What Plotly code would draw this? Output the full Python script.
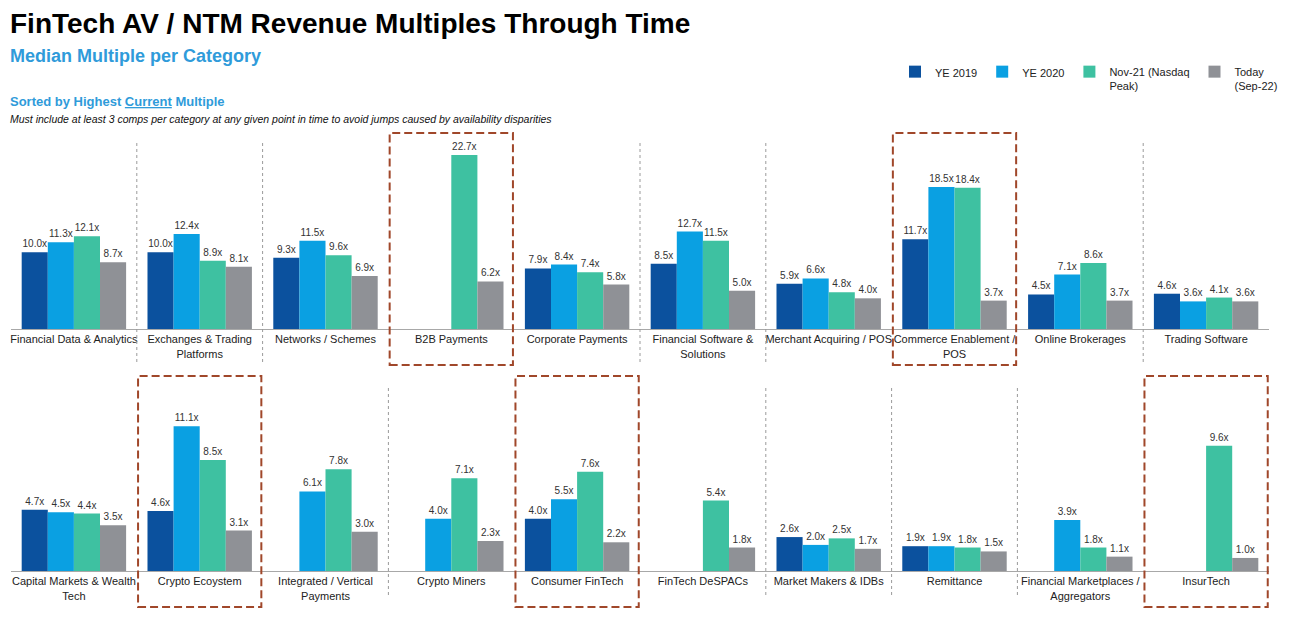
import plotly.graph_objects as go

series_names = ["YE 2019", "YE 2020", "Nov-21 (Nasdaq<br>Peak)", "Today<br>(Sep-22)"]
series_colors = ["#0B519E", "#0AA0E2", "#3EC1A1", "#8F9196"]

top_categories = [
    "Financial Data & Analytics", "Exchanges & Trading<br>Platforms", "Networks / Schemes",
    "B2B Payments", "Corporate Payments", "Financial Software &<br>Solutions",
    "Merchant Acquiring / POS", "Commerce Enablement /<br>POS", "Online Brokerages",
    "Trading Software",
]
top_ye2019 = [10.0, 10.0, 9.3, None, 7.9, 8.5, 5.9, 11.7, 4.5, 4.6]
top_ye2020 = [11.3, 12.4, 11.5, None, 8.4, 12.7, 6.6, 18.5, 7.1, 3.6]
top_nov21 = [12.1, 8.9, 9.6, 22.7, 7.4, 11.5, 4.8, 18.4, 8.6, 4.1]
top_today = [8.7, 8.1, 6.9, 6.2, 5.8, 5.0, 4.0, 3.7, 3.7, 3.6]

bottom_categories = [
    "Capital Markets & Wealth<br>Tech", "Crypto Ecoystem", "Integrated / Vertical<br>Payments",
    "Crypto Miners", "Consumer FinTech", "FinTech DeSPACs", "Market Makers & IDBs",
    "Remittance", "Financial Marketplaces /<br>Aggregators", "InsurTech",
]
bottom_ye2019 = [4.7, 4.6, None, None, 4.0, None, 2.6, 1.9, None, None]
bottom_ye2020 = [4.5, 11.1, 6.1, 4.0, 5.5, None, 2.0, 1.9, 3.9, None]
bottom_nov21 = [4.4, 8.5, 7.8, 7.1, 7.6, 5.4, 2.5, 1.8, 1.8, 9.6]
bottom_today = [3.5, 3.1, 3.0, 2.3, 2.2, 1.8, 1.7, 1.5, 1.1, 1.0]

top_boxed = [3, 7]
bottom_boxed = [1, 4, 9]

# page body has an 8px margin; figure is sized so it fits the 1292x631 window
OFF = 8
W, H = 1292 - OFF, 631 - OFF
def py(p):
    return 1 - (p - OFF) / H
def px(p):
    return (p - OFF) / W

FONT = "Liberation Sans, Arial, sans-serif"

fig = go.Figure()
top_series = [top_ye2019, top_ye2020, top_nov21, top_today]
bottom_series = [bottom_ye2019, bottom_ye2020, bottom_nov21, bottom_today]
for i in range(4):
    fig.add_trace(go.Bar(
        x=top_categories, y=top_series[i], name=series_names[i],
        marker=dict(color=series_colors[i], line=dict(width=0)),
        text=[None if v is None else f"{v:.1f}x" for v in top_series[i]],
        textposition="outside", cliponaxis=False, constraintext="none",
        textfont=dict(size=10, color="#333333", family=FONT),
        xaxis="x", yaxis="y", legendgroup=str(i), showlegend=True,
        hoverinfo="skip",
    ))
for i in range(4):
    fig.add_trace(go.Bar(
        x=bottom_categories, y=bottom_series[i], name=series_names[i],
        marker=dict(color=series_colors[i], line=dict(width=0)),
        text=[None if v is None else f"{v:.1f}x" for v in bottom_series[i]],
        textposition="outside", cliponaxis=False, constraintext="none",
        textfont=dict(size=10, color="#333333", family=FONT),
        xaxis="x2", yaxis="y2", legendgroup=str(i), showlegend=False,
        hoverinfo="skip",
    ))

xdom = [px(11), px(1269)]
axis_common = dict(
    domain=xdom, showline=True, linecolor="#A8A8A8", linewidth=1,
    ticks="", showgrid=False, zeroline=False, tickangle=0,
    tickfont=dict(size=11, color="#222222", family=FONT),
    type="category", range=[-0.5, 9.5], fixedrange=True,
)
fig.update_layout(
    width=W, height=H,
    margin=dict(l=0, r=0, t=0, b=0),
    paper_bgcolor="white", plot_bgcolor="white",
    barmode="group", bargap=0.17, bargroupgap=0,
    font=dict(family=FONT, color="#222222"),
    xaxis=dict(**axis_common, anchor="y"),
    xaxis2=dict(**axis_common, anchor="y2"),
    yaxis=dict(domain=[py(329), py(140)], range=[0, 189 / 7.67], visible=False, fixedrange=True),
    yaxis2=dict(domain=[py(571), py(385)], range=[0, 186 / 13.05], visible=False, fixedrange=True),
    legend=dict(
        orientation="h", x=px(895), y=py(58), xanchor="left", yanchor="top",
        font=dict(size=11, color="#222222", family=FONT), traceorder="normal",
        itemwidth=30, bgcolor="rgba(0,0,0,0)", valign="top",
    ),
    showlegend=True,
)

shapes = []
for i in range(9):
    left, right = i, i + 1
    if left not in top_boxed and right not in top_boxed:
        shapes.append(dict(type="line", xref="x", yref="paper", x0=i + 0.5, x1=i + 0.5,
                           y0=py(362), y1=py(143), line=dict(color="#9A9A9A", width=1, dash="3px,3px")))
    if left not in bottom_boxed and right not in bottom_boxed:
        shapes.append(dict(type="line", xref="x2", yref="paper", x0=i + 0.5, x1=i + 0.5,
                           y0=py(595), y1=py(385), line=dict(color="#9A9A9A", width=1, dash="3px,3px")))
for b in top_boxed:
    shapes.append(dict(type="rect", xref="x", yref="paper", x0=b - 0.49, x1=b + 0.49,
                       y0=py(365), y1=py(133), line=dict(color="#A0472A", width=2, dash="8px,4px"),
                       fillcolor="rgba(0,0,0,0)"))
for b in bottom_boxed:
    shapes.append(dict(type="rect", xref="x2", yref="paper", x0=b - 0.49, x1=b + 0.49,
                       y0=py(607), y1=py(376), line=dict(color="#A0472A", width=2, dash="8px,4px"),
                       fillcolor="rgba(0,0,0,0)"))
fig.update_layout(shapes=shapes)

ann = [
    dict(text="<b>FinTech AV / NTM Revenue Multiples Through Time</b>", x=px(8), y=py(23),
         font=dict(size=28, color="#000000", family=FONT)),
    dict(text="<b>Median Multiple per Category</b>", x=px(8), y=py(56),
         font=dict(size=18, color="#2F9BDA", family=FONT)),
    dict(text="<b>Sorted by Highest <u>Current</u> Multiple</b>", x=px(8), y=py(101),
         font=dict(size=13, color="#2F9BDA", family=FONT)),
    dict(text="<i>Must include at least 3 comps per category at any given point in time to avoid jumps caused by availability disparities</i>",
         x=px(8), y=py(119), font=dict(size=10.5, color="#111111", family=FONT)),
]
for a in ann:
    a.update(xref="paper", yref="paper", xanchor="left", yanchor="middle", showarrow=False)
fig.update_layout(annotations=ann)

fig.write_html("out.html")
